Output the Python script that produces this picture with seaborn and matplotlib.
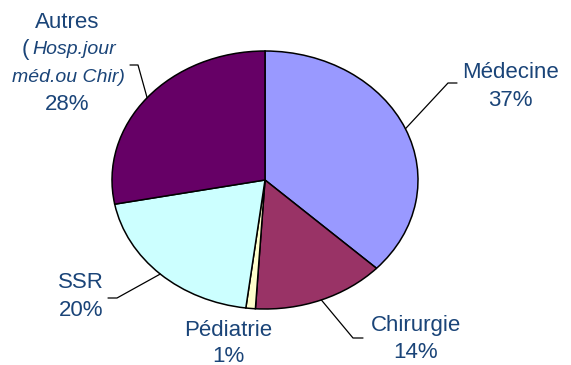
import numpy as np
import matplotlib
matplotlib.use("Agg")
import matplotlib.pyplot as plt
import seaborn as sns

# Répartition des séjours par discipline
categories = ["Médecine", "Chirurgie", "Pédiatrie", "SSR", "Autres"]
values = [37, 14, 1, 20, 28]
colors = ["#9999FF", "#993366", "#FFFFCC", "#CCFFFF", "#660066"]

sns.set_theme(style="white")
plt.rcParams["font.family"] = ["Liberation Sans", "DejaVu Sans"]

W, H = 571, 365
fig = plt.figure(figsize=(W / 100, H / 100), dpi=100)
fig.patch.set_facecolor("white")

# pie drawn as an ellipse: circle stretched by the axes box
cx, cy, rx, ry = 265, 180, 153, 129
ax = fig.add_axes([(cx - rx) / W, 1 - (cy + ry) / H, 2 * rx / W, 2 * ry / H])
wedges, _ = ax.pie(values, colors=colors, startangle=90, counterclock=False,
                   wedgeprops=dict(edgecolor="black", linewidth=1.1),
                   radius=1.0)
ax.set_aspect("auto")
ax.set_xlim(-1, 1)
ax.set_ylim(-1, 1)
ax.axis("off")

txt_color = "#1A4478"
fs = 16


def to_data(px, py):
    return (px - cx) / rx, (cy - py) / ry


def px_fig(px, py):
    return px / W, 1 - py / H


# leader lines from each wedge's mid angle to an elbow
elbows = {
    "Médecine": [(448, 83), (457, 83)],
    "Chirurgie": [(353, 338), (363, 338)],
    "SSR": [(117, 298), (108, 298)],
    "Autres": [(138, 65), (130, 65)],
}
for w, name in zip(wedges, categories):
    if name not in elbows:
        continue
    ang = np.deg2rad((w.theta1 + w.theta2) / 2)
    pts = [(np.cos(ang), np.sin(ang))] + [to_data(*p) for p in elbows[name]]
    xs, ys = zip(*pts)
    ax.plot(xs, ys, color="black", lw=0.9, clip_on=False)

vals = dict(zip(categories, values))


def label(px, py, s, **kw):
    fig.text(*px_fig(px, py), s, color=txt_color, fontsize=kw.pop("size", fs),
             ha=kw.pop("ha", "center"), va="center", **kw)


label(510, 73, "Médecine")
label(510, 100, f"{vals['Médecine']}%")
label(416, 325, "Chirurgie")
label(416, 352, f"{vals['Chirurgie']}%")
label(228, 330, "Pédiatrie")
label(228, 356, f"{vals['Pédiatrie']}%")
label(81, 283, "SSR")
label(81, 311, f"{vals['SSR']}%")
label(67, 22, "Autres")
label(22, 49, "(", ha="left")
label(32, 50, "Hosp.jour", ha="left", size=14, style="italic")
label(68, 78, "méd.ou Chir)", size=14, style="italic")
label(67, 105, f"{vals['Autres']}%")

fig.savefig("out.png", dpi=100, facecolor="white")
